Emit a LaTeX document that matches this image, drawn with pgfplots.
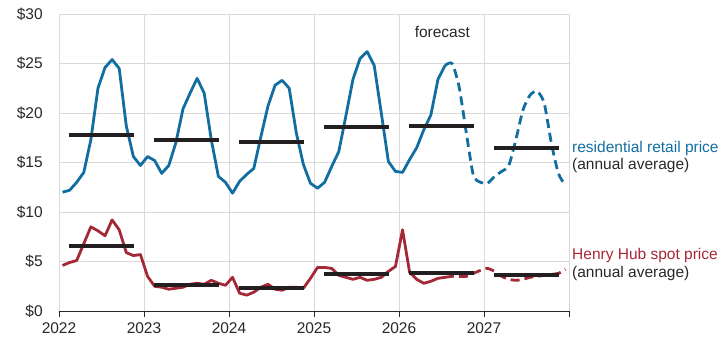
\documentclass[border=0pt]{standalone}
\usepackage{fontspec}
\setmainfont{Liberation Sans}
\usepackage{pgfplots}
\pgfplotsset{compat=1.18}
\definecolor{eiablue}{RGB}{18,110,160}
\definecolor{eiared}{RGB}{165,40,55}
\definecolor{avgblack}{RGB}{35,31,32}
\definecolor{gridgray}{RGB}{217,217,217}
\definecolor{txt}{RGB}{40,40,40}
\begin{document}
\fontsize{15.5bp}{18bp}\selectfont
\begin{tikzpicture}
\useasboundingbox (-59bp,-30bp) rectangle (663bp,311bp);
\begin{axis}[
  at={(0,0)}, anchor=south west,
  scale only axis, width=510bp, height=297bp,
  xmin=0, xmax=72, ymin=0, ymax=30,
  xtick={0,12,...,72}, xticklabels={2022,2023,2024,2025,2026,2027,},
  ytick={0,5,...,30}, yticklabels={\$0,\$5,\$10,\$15,\$20,\$25,\$30},
  grid=major, major grid style={gridgray, line width=1bp},
  axis x line*=bottom, axis y line*=left,
  x axis line style={-, txt, line width=1bp},
  y axis line style={-, gridgray, line width=1bp},
  xtick style={txt, line width=1bp}, tick align=outside, major tick length=6bp,
  ytick style={draw=none},
  tick label style={text=txt, font=\fontsize{15.5bp}{18bp}\selectfont},
  yticklabel style={xshift=-5bp},
  unbounded coords=jump,
  clip=false,
  every axis plot/.append style={line join=round},
]
% residential retail price (actual)
\addplot[eiablue, line width=2.8bp] coordinates {
(0.5,12.0)(1.5,12.2)(2.5,13.0)(3.5,14.0)(4.5,17.3)(5.5,22.5)(6.5,24.6)(7.5,25.4)(8.5,24.5)(9.5,18.7)(10.5,15.6)(11.5,14.7)
(12.5,15.6)(13.5,15.2)(14.5,13.9)(15.5,14.7)(16.5,17.0)(17.5,20.4)(18.5,22.0)(19.5,23.5)(20.5,22.0)(21.5,17.3)(22.5,13.6)(23.5,13.0)
(24.5,11.9)(25.5,13.1)(26.5,13.8)(27.5,14.4)(28.5,17.6)(29.5,20.7)(30.5,22.8)(31.5,23.3)(32.5,22.5)(33.5,18.0)(34.5,14.8)(35.5,12.9)
(36.5,12.4)(37.5,13.0)(38.5,14.6)(39.5,16.1)(40.5,19.7)(41.5,23.4)(42.5,25.5)(43.5,26.2)(44.5,24.8)(45.5,20.0)(46.5,15.1)(47.5,14.1)
(48.5,14.0)(49.5,15.3)(50.5,16.5)(51.5,18.3)(52.5,19.8)(53.5,23.4)(54.5,24.8)
};
% residential retail price (forecast)
\addplot[eiablue, line width=2.8bp, dash pattern=on 9bp off 5bp, smooth, tension=0.4] coordinates {
(54.5,24.8)(55.5,25.0)(56.5,22.6)(57.5,18.0)(58.5,13.7)(59.5,13.0)
(60.5,12.9)(61.5,13.6)(62.5,14.1)(63.5,14.7)(64.5,17.3)(65.5,20.3)(66.5,21.8)(67.5,22.2)(68.5,21.0)(69.5,17.0)(70.5,13.9)(71.5,12.7)
};
% Henry Hub (actual)
\addplot[eiared, line width=2.8bp] coordinates {
(0.5,4.6)(1.5,4.9)(2.5,5.1)(3.5,6.8)(4.5,8.5)(5.5,8.1)(6.5,7.6)(7.5,9.2)(8.5,8.2)(9.5,5.9)(10.5,5.6)(11.5,5.7)
(12.5,3.5)(13.5,2.5)(14.5,2.4)(15.5,2.2)(16.5,2.3)(17.5,2.4)(18.5,2.7)(19.5,2.8)(20.5,2.7)(21.5,3.1)(22.5,2.8)(23.5,2.6)
(24.5,3.4)(25.5,1.8)(26.5,1.6)(27.5,1.9)(28.5,2.4)(29.5,2.7)(30.5,2.2)(31.5,2.1)(32.5,2.4)(33.5,2.4)(34.5,2.3)(35.5,3.3)
(36.5,4.4)(37.5,4.4)(38.5,4.3)(39.5,3.6)(40.5,3.4)(41.5,3.2)(42.5,3.4)(43.5,3.1)(44.5,3.2)(45.5,3.4)(46.5,4.0)(47.5,4.5)
(48.5,8.2)(49.5,3.9)(50.5,3.2)(51.5,2.8)(52.5,3.0)(53.5,3.3)(54.5,3.4)
};
% Henry Hub (forecast)
\addplot[eiared, line width=2.8bp, dash pattern=on 9bp off 5bp, smooth, tension=0.4] coordinates {
(54.5,3.4)(55.5,3.5)(56.5,3.5)(57.5,3.5)(58.5,3.8)(59.5,4.1)
(60.5,4.3)(61.5,4.0)(62.5,3.5)(63.5,3.2)(64.5,3.1)(65.5,3.2)(66.5,3.4)(67.5,3.5)(68.5,3.6)(69.5,3.7)(70.5,3.8)(71.5,4.2)
};
% annual averages
\addplot[avgblack, line width=3.8bp] coordinates {
(1.4,17.8)(10.6,17.8)(12,nan)
(13.4,17.3)(22.6,17.3)(24,nan)
(25.4,17.1)(34.6,17.1)(36,nan)
(37.4,18.6)(46.6,18.6)(48,nan)
(49.4,18.7)(58.6,18.7)(60,nan)
(61.4,16.5)(70.6,16.5)
};
\addplot[avgblack, line width=3.8bp] coordinates {
(1.4,6.6)(10.6,6.6)(12,nan)
(13.4,2.6)(22.6,2.6)(24,nan)
(25.4,2.3)(34.6,2.3)(36,nan)
(37.4,3.7)(46.6,3.7)(48,nan)
(49.4,3.8)(58.6,3.8)(60,nan)
(61.4,3.65)(70.6,3.65)
};
\node[anchor=base west, inner sep=0pt, text=txt] at (axis cs:50.2,27.65) {forecast};
\node[anchor=base west, inner sep=0pt, text=eiablue, xshift=3bp] at (axis cs:72,16.06) {residential retail price};
\node[anchor=base west, inner sep=0pt, text=txt, xshift=3bp] at (axis cs:72,14.34) {(annual average)};
\node[anchor=base west, inner sep=0pt, text=eiared, xshift=3bp] at (axis cs:72,5.25) {Henry Hub spot price};
\node[anchor=base west, inner sep=0pt, text=txt, xshift=3bp] at (axis cs:72,3.43) {(annual average)};
\end{axis}
\end{tikzpicture}
\end{document}
